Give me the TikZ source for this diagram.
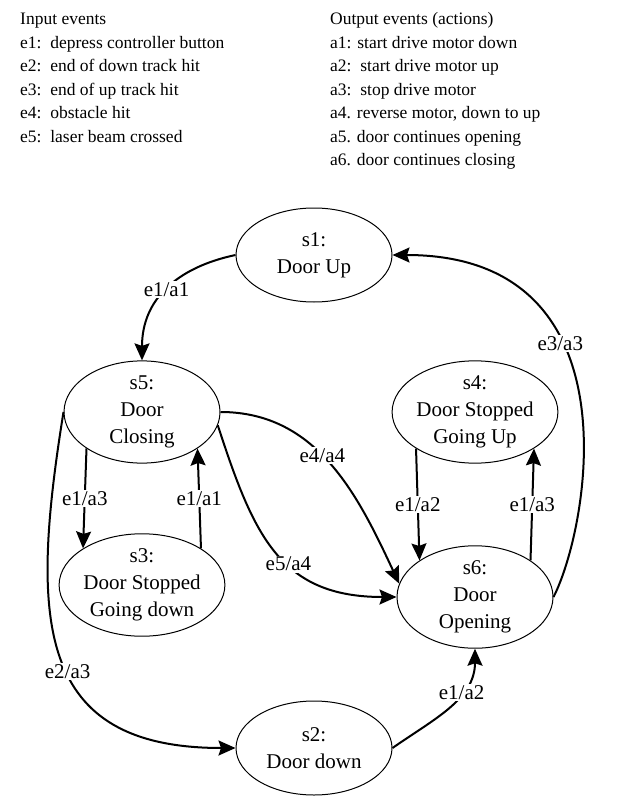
\documentclass[tikz,border=0pt]{standalone}
\usepackage{fontspec}
\setmainfont{Liberation Serif}
\usetikzlibrary{arrows.meta,shapes.geometric}

\tikzset{
  state/.style={ellipse, draw, line width=1pt, minimum width=156pt, minimum height=94pt,
    inner sep=0pt, align=center, font=\fontsize{21}{27}\selectfont},
  trans/.style={line width=2pt, -{Stealth[length=17pt,width=15pt,inset=2.5pt]}},
  lab/.style={fill=white, inner sep=1.5pt, font=\fontsize{21}{25}\selectfont},
  evline/.style={anchor=base west, inner sep=0pt, font=\fontsize{17.5}{23.5}\selectfont}
}

\begin{document}
\begin{tikzpicture}[x=1pt, y=1pt]
            \useasboundingbox (0,0) rectangle (622,-805);

            % Legenda
            \foreach \i/\txt in {0/Input events, 1/e1:\ \ depress controller button,
                    2/e2:\ \ end of down track hit, 3/e3:\ \ end of up track hit,
                    4/e4:\ \ obstacle hit, 5/e5:\ \ laser beam crossed} {
                    \node[evline] (in\i) at (20,{-25-23.5*\i}) {\txt};
                }
            \foreach \i/\txt in {0/Output events (actions), 1/a1: start drive motor down,
                    2/a2:\ \ start drive motor up, 3/a3:\ \ stop drive motor,
                    {4/a4. reverse motor, down to up}, 5/a5. door continues opening,
                    6/a6. door continues closing} {
                    \node[evline] (out\i) at (330,{-25-23.5*\i}) {\txt};
                }

            % Stati
            \node[state] (s1) at (314,-255) {s1:\\Door Up};
            \node[state] (s5) at (142,-412) {s5:\\Door\\Closing};
            \node[state] (s4) at (475,-412) {s4:\\Door Stopped\\Going Up};
            \node[state] (s3) at (142,-585) {s3:\\Door Stopped\\Going down};
            \node[state] (s6) at (475,-597) {s6:\\Door\\Opening};
            \node[state] (s2) at (314,-748) {s2:\\Door down};

            % Transizioni
            \draw[trans] (s1.west) to[out=192, in=90, looseness=1.1] node[lab, pos=0.5] {e1/a1} (s5.north);
            \draw[trans] (s5.south west) -- node[lab] {e1/a3} (s3.north west);
            \draw[trans] (s3.north east) -- node[lab] {e1/a1} (s5.south east);
            \draw[trans] (s4.south west) -- node[lab] {e1/a2} (s6.north west);
            \draw[trans] (s6.north east) -- node[lab] {e1/a3} (s4.south east);
            \draw[trans] (s5.east) to[out=0, in=115] node[lab, pos=0.45] {e4/a4} (s6.170);
            \draw[trans] (s5.-10) to[out=-72, in=180, looseness=1.2] node[lab, pos=0.57] {e5/a4} (s6.west);
            \draw[trans] (s5.west) .. controls (30,-620) and (35,-748) .. node[lab, pos=0.54] {e2/a3} (s2.west);
            \draw[trans] (s2.east) to[out=35, in=-90] node[lab, pos=0.65] {e1/a2} (s6.south);
            \draw[trans] (s6.east) .. controls (588,-530) and (640,-255) .. node[lab, pos=0.63] {e3/a3} (s1.east);
        \end{tikzpicture}
\end{document}
